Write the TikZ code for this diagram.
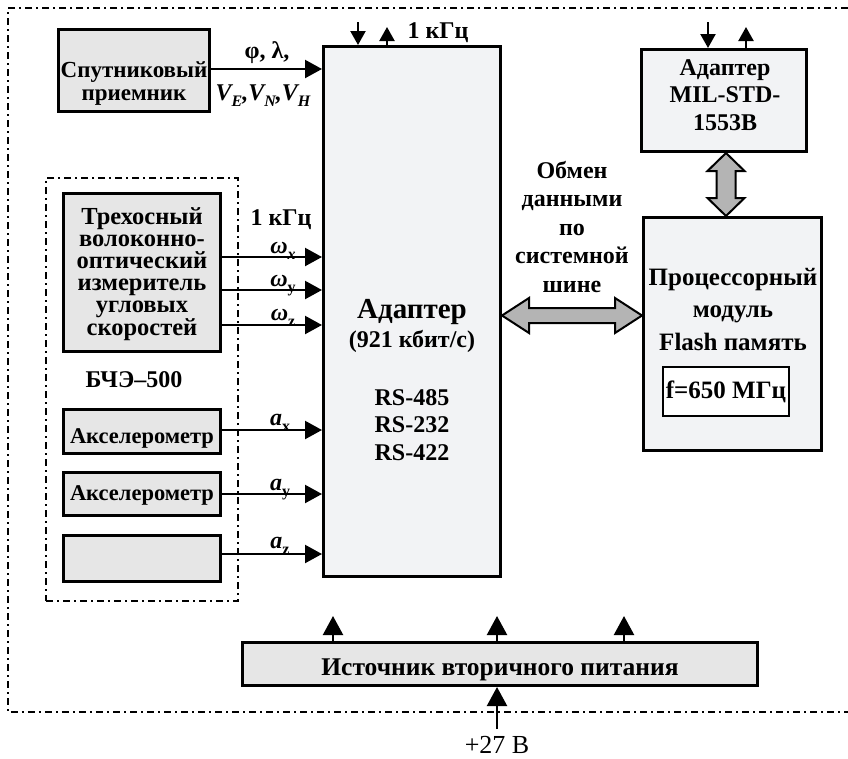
\documentclass[tikz,border=0pt]{standalone}
\usepackage{fontspec}
\setmainfont{Liberation Serif}
\usetikzlibrary{arrows.meta,calc}
\definecolor{boxgray}{HTML}{E6E6E6}
\definecolor{lightfill}{HTML}{F2F3F5}
\definecolor{busgray}{HTML}{B4B4B4}
\newcommand\subs[1]{\raisebox{-0.28em}{\fontsize{16}{16}\selectfont #1}}
\begin{document}
\begin{tikzpicture}[x=1pt,y=-1pt,
  box/.style={draw=black, line width=3.5pt, fill=boxgray, inner sep=0pt},
  lbox/.style={draw=black, line width=3pt, fill=lightfill, inner sep=0pt},
  txt/.style={anchor=base, inner sep=0pt, font=\fontsize{24}{23}\selectfont\bfseries, align=center},
  arr/.style={line width=2.2pt, -{Triangle[length=17pt,width=18pt]}},
  sarr/.style={line width=2.2pt, -{Triangle[length=14pt,width=15pt]}},
  parr/.style={line width=2.2pt, -{Triangle[length=19pt,width=20pt]}},
  dd/.style={line width=2pt, dash pattern=on 7pt off 4pt on 2pt off 4pt},
  ddbox/.style={draw=black, dd, inner sep=0pt},
  bus/.style={draw=black, line width=2pt, fill=busgray, line join=miter},
]
\useasboundingbox (0,0) rectangle (848,758);

% outer frame
\draw[dd] (848,8) -- (8,8) -- (8,712) -- (848,712);
% BCHE-500 group
\node[ddbox, minimum width=192, minimum height=423] (bche) at (142,389.5) {};

% boxes
\node[box, minimum width=151, minimum height=82] (sat) at (134,70.5) {};
\node[lbox, minimum width=177, minimum height=530] (main) at (412,311.5) {};
\node[lbox, minimum width=165, minimum height=102] (mil) at (724,100.5) {};
\node[lbox, minimum width=178, minimum height=233] (proc) at (732.5,334) {};
\node[draw=black, line width=2.5pt, fill=white, minimum width=126, minimum height=49, inner sep=0pt,
      font=\fontsize{25}{25}\selectfont\bfseries] (freq) at (726,391.5) {f=650 МГц};
\node[box, minimum width=157, minimum height=158] (gyro) at (142,272.5) {};
\node[box, minimum width=157, minimum height=44] (acc1) at (142,431.5) {};
\node[box, minimum width=157, minimum height=43] (acc2) at (142,494) {};
\node[box, minimum width=157, minimum height=46] (acc3) at (142,558.5) {};
\node[box, line width=3pt, minimum width=515, minimum height=43] (pwr) at (500,664) {};

% texts in boxes (anchor = baseline of the last line)
\node[txt, font=\fontsize{23}{23}\selectfont\bfseries] (sattxt) at (134,100) {Спутниковый\\приемник};
\node[txt, font=\fontsize{24.5}{22.2}\selectfont\bfseries] (gyrotxt) at (142,335)
  {Трехосный\\волоконно-\\оптический\\измеритель\\угловых\\скоростей};
\node[txt, font=\fontsize{24}{27.5}\selectfont\bfseries] (miltxt) at (725,130) {Адаптер\\MIL-STD-\\1553B};
\node[txt, font=\fontsize{22.5}{23}\selectfont\bfseries] (acc1txt) at (142,443) {Акселерометр};
\node[txt, font=\fontsize{22.5}{23}\selectfont\bfseries] (acc2txt) at (142,500) {Акселерометр};
\node[txt, font=\fontsize{25.5}{25}\selectfont\bfseries] (pwrtxt) at (500,675) {Источник вторичного питания};
\node[txt, font=\fontsize{24}{28.5}\selectfont\bfseries] (bustxt) at (572,292) {Обмен\\данными\\по\\системной\\шине};
\node[txt, font=\fontsize{25}{32.5}\selectfont\bfseries] (proctxt) at (733,350) {Процессорный\\модуль\\Flash память};
\node[txt, font=\fontsize{29}{29}\selectfont\bfseries] (maintitle) at (412,318) {Адаптер};
\node[txt] (mainrate) at (412,347) {(921 кбит/с)};
\node[txt, font=\fontsize{24}{27.5}\selectfont\bfseries] (mainrs) at (412,460) {RS-485\\RS-232\\RS-422};
\node[txt] (bchetxt) at (134,387) {БЧЭ–500};

% free labels
\node[txt] (khz1) at (438,38) {1 кГц};
\node[txt] (khz2) at (281,225) {1 кГц};
\node[txt] (phil) at (267,58) {φ, λ,};
\node[txt] (vel) at (263,100) {\itshape V\subs{E},V\subs{N},V\subs{H}};
\node[txt] (wx) at (283,253) {\itshape ω\subs{x}};
\node[txt] (wy) at (283,286) {{\itshape ω}\subs{y}};
\node[txt] (wz) at (283,320) {{\itshape ω}\subs{z}};
\node[txt] (ax) at (280,425) {{\itshape a}\subs{x}};
\node[txt] (ay) at (280,490) {{\itshape a}\subs{y}};
\node[txt] (az) at (280,548) {{\itshape a}\subs{z}};
\node[anchor=base, inner sep=0pt, font=\fontsize{26}{26}\selectfont] (v27) at (497,753) {+27 В};

% input arrows into main adapter
\draw[arr] ([yshift=1.5pt]sat.east) coordinate (s1) -- (s1 -| main.west);
\draw[arr] ([yshift=15.5pt]gyro.east) coordinate (g1) -- (g1 -| main.west);
\draw[arr] ([yshift=-17.5pt]gyro.east) coordinate (g2) -- (g2 -| main.west);
\draw[arr] ([yshift=-52.5pt]gyro.east) coordinate (g3) -- (g3 -| main.west);
\draw[arr] ([yshift=1.5pt]acc1.east) coordinate (a1) -- (a1 -| main.west);
\draw[arr] (acc2.east) coordinate (a2) -- (a2 -| main.west);
\draw[arr] ([yshift=4.5pt]acc3.east) coordinate (a3) -- (a3 -| main.west);

% top sync arrows
\coordinate (ck1) at (358,22);
\coordinate (ck2) at (387,27);
\draw[sarr] (ck1) -- (ck1 |- main.north);
\draw[sarr] (ck2 |- main.north) -- (ck2);
\coordinate (mk1) at (708,22);
\coordinate (mk2) at (746,27);
\draw[sarr] (mk1) -- (mk1 |- mil.north);
\draw[sarr] (mk2 |- mil.north) -- (mk2);

% power arrows
\coordinate (p1) at (333,616);
\coordinate (p2) at (497,616);
\coordinate (p3) at (624,616);
\draw[parr] (p1 |- pwr.north) -- (p1);
\draw[parr] (p2 |- pwr.north) -- (p2);
\draw[parr] (p3 |- pwr.north) -- (p3);
\coordinate (pin) at (497,729);
\draw[parr] (pin) -- (pin |- pwr.south);

% system bus double arrow
\coordinate (busl) at ([yshift=-4pt]main.east);
\coordinate (busr) at (busl -| proc.west);
\draw[bus] (busl) -- ($(busl)+(27,-17.5)$) -- ($(busl)+(27,-7.5)$) -- ($(busr)+(-27,-7.5)$)
  -- ($(busr)+(-27,-17.5)$) -- (busr) -- ($(busr)+(-27,17.5)$) -- ($(busr)+(-27,7.5)$)
  -- ($(busl)+(27,7.5)$) -- ($(busl)+(27,17.5)$) -- cycle;
% MIL <-> processor double arrow
\coordinate (bust) at ([xshift=2pt]mil.south);
\coordinate (busb) at (bust |- proc.north);
\draw[bus] (bust) -- ($(bust)+(18.5,18)$) -- ($(bust)+(9.5,18)$) -- ($(busb)+(9.5,-18)$)
  -- ($(busb)+(18.5,-18)$) -- (busb) -- ($(busb)+(-18.5,-18)$) -- ($(busb)+(-9.5,-18)$)
  -- ($(bust)+(-9.5,18)$) -- ($(bust)+(-18.5,18)$) -- cycle;
\end{tikzpicture}
\end{document}
